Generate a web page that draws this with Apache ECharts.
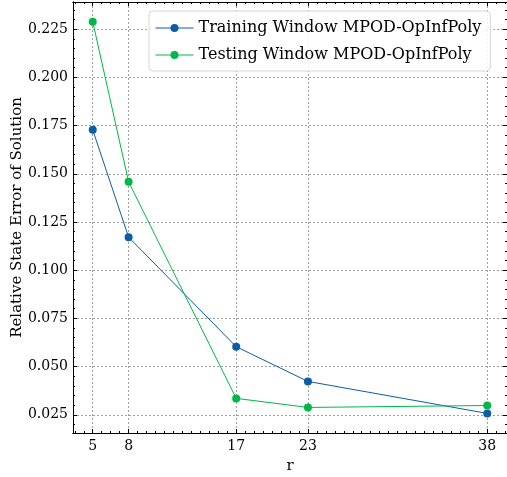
<!DOCTYPE html>
<html>
<head>
<meta charset="utf-8">
<script src="https://cdn.jsdelivr.net/npm/echarts@6/dist/echarts.min.js"></script>
<style>
  html, body { margin: 0; padding: 0; background: #fff; }
  #chart { width: 507px; height: 477px; }
</style>
</head>
<body>
<div id="chart"></div>
<script>
// Reduced-order dimension r and relative state errors
const rValues = [5, 8, 17, 23, 38];
const trainingError = [0.1728, 0.1171, 0.0603, 0.0423, 0.0257];
const testingError = [0.2289, 0.1458, 0.0335, 0.0288, 0.0298];

const seriesNames = ['Training Window MPOD-OpInfPoly', 'Testing Window MPOD-OpInfPoly'];
const seriesColors = ['#0C5DA5', '#00B945'];

// Axis ticks
const xMajorTicks = [5, 8, 17, 23, 38];
const yMajorTicks = [0.025, 0.05, 0.075, 0.1, 0.125, 0.15, 0.175, 0.2, 0.225];
const xRange = [3.35, 39.65];
const yRange = [0.01554, 0.2391];

// Minor tick positions (x every 0.75 from 5, y every 0.005)
const xMinorTicks = [];
for (let k = -2; k <= 46; k++) {
  const v = +(5 + k * 0.75).toFixed(3);
  if (v > xRange[0] && v < xRange[1]) xMinorTicks.push(v);
}
const yMinorTicks = [];
for (let k = 3; k <= 47; k++) {
  const v = +(k * 0.005).toFixed(4);
  if (v > yRange[0] && v < yRange[1]) yMinorTicks.push(v);
}

const serif = 'DejaVu Serif';
const black = '#000';

function xAxisDef(gridIndex, position, ticks, len, major) {
  return {
    type: 'value', gridIndex, position,
    min: xRange[0], max: xRange[1],
    axisLine: { show: true, onZero: false, lineStyle: { color: black, width: 1 } },
    axisTick: { show: true, inside: true, length: len, customValues: ticks,
                lineStyle: { color: black, width: 1 } },
    axisLabel: major && position === 'bottom'
      ? { show: true, customValues: ticks, margin: 6, color: black,
          fontFamily: serif, fontSize: 14, formatter: v => String(v) }
      : { show: false },
    splitLine: major && position === 'bottom'
      ? { show: true, lineStyle: { color: '#a0a0a0', width: 1, type: [2, 2] } }
      : { show: false },
    minorTick: { show: false },
    name: major && position === 'bottom' ? 'r' : '',
    nameLocation: 'middle', nameGap: 26, nameMoveOverlap: false,
    nameTextStyle: { color: black, fontFamily: serif, fontSize: 15 }
  };
}

function yAxisDef(gridIndex, position, ticks, len, major) {
  return {
    type: 'value', gridIndex, position,
    min: yRange[0], max: yRange[1],
    axisLine: { show: true, onZero: false, lineStyle: { color: black, width: 1 } },
    axisTick: { show: true, inside: true, length: len, customValues: ticks,
                lineStyle: { color: black, width: 1 } },
    axisLabel: major && position === 'left'
      ? { show: true, customValues: ticks, margin: 5, color: black,
          fontFamily: serif, fontSize: 14, formatter: v => v.toFixed(3) }
      : { show: false },
    splitLine: major && position === 'left'
      ? { show: true, lineStyle: { color: '#a0a0a0', width: 1, type: [2, 2] } }
      : { show: false },
    minorTick: { show: false },
    name: major && position === 'left' ? 'Relative State Error of Solution' : '',
    nameLocation: 'middle', nameGap: 48, nameMoveOverlap: false,
    nameTextStyle: { color: black, fontFamily: serif, fontSize: 15 }
  };
}

const gridBox = { left: 73, right: 0, top: 2, bottom: 44, containLabel: false, outerBoundsMode: 'none' };

const chart = echarts.init(document.getElementById('chart'), null, { renderer: 'canvas' });
chart.setOption({
  animation: false,
  backgroundColor: '#fff',
  grid: [Object.assign({}, gridBox), Object.assign({}, gridBox)],
  xAxis: [
    xAxisDef(0, 'bottom', xMajorTicks, 4, true),
    xAxisDef(0, 'top', xMajorTicks, 4, true),
    xAxisDef(1, 'bottom', xMinorTicks, 2, false),
    xAxisDef(1, 'top', xMinorTicks, 2, false)
  ],
  yAxis: [
    yAxisDef(0, 'left', yMajorTicks, 4, true),
    yAxisDef(0, 'right', yMajorTicks, 4, true),
    yAxisDef(1, 'left', yMinorTicks, 2, false),
    yAxisDef(1, 'right', yMinorTicks, 2, false)
  ],
  legend: {
    orient: 'vertical',
    left: 149, top: 11,
    padding: [9, 9, 8, 6],
    itemGap: 11,
    itemWidth: 38, itemHeight: 10,
    lineStyle: { width: 1 },
    backgroundColor: 'rgba(255,255,255,0.85)',
    borderColor: '#d6d6d6', borderWidth: 1, borderRadius: 4,
    textStyle: { color: black, fontFamily: serif, fontSize: 16 },
    data: seriesNames
  },
  series: [
    {
      name: seriesNames[0], type: 'line',
      xAxisIndex: 0, yAxisIndex: 0,
      data: rValues.map((r, i) => [r, trainingError[i]]),
      symbol: 'circle', symbolSize: 8,
      color: seriesColors[0],
      lineStyle: { width: 1, color: seriesColors[0] },
      itemStyle: { color: seriesColors[0] }
    },
    {
      name: seriesNames[1], type: 'line',
      xAxisIndex: 0, yAxisIndex: 0,
      data: rValues.map((r, i) => [r, testingError[i]]),
      symbol: 'circle', symbolSize: 8,
      color: seriesColors[1],
      lineStyle: { width: 1, color: seriesColors[1] },
      itemStyle: { color: seriesColors[1] }
    }
  ]
});
</script>
</body>
</html>
